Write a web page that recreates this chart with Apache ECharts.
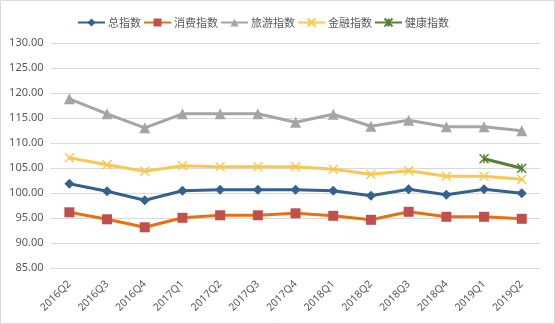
<!DOCTYPE html>
<html><head><meta charset="utf-8">
<script src="https://cdn.jsdelivr.net/npm/echarts@6/dist/echarts.min.js"></script>
<style>html,body{margin:0;padding:0;background:#fff}#main{width:555px;height:324px}</style>
</head><body><div id="main"></div>
<script>
const categories = ['2016Q2','2016Q3','2016Q4','2017Q1','2017Q2','2017Q3','2017Q4','2018Q1','2018Q2','2018Q3','2018Q4','2019Q1','2019Q2'];
const seriesNames = ['总指数','消费指数','旅游指数','金融指数','健康指数'];
const totalIndex = [101.9,100.4,98.6,100.5,100.7,100.7,100.7,100.5,99.5,100.8,99.7,100.8,100.0];
const consumeIndex = [96.2,94.8,93.2,95.1,95.6,95.6,96.0,95.5,94.7,96.3,95.3,95.3,94.9];
const travelIndex = [118.9,115.9,113.1,115.9,115.9,115.9,114.2,115.8,113.4,114.6,113.3,113.3,112.5];
const financeIndex = [107.1,105.7,104.4,105.5,105.3,105.3,105.3,104.8,103.8,104.5,103.4,103.4,102.8];
const healthIndex = [null,null,null,null,null,null,null,null,null,null,null,106.9,105.0];
const yTicks = {min:85,max:130,interval:5};

const xPath = 'path://M0,0L10,10M10,0L0,10';
const starPath = 'path://M0,0L10,10M10,0L0,10M5,0L5,10';
const styles = [
  {line:'#35618F', item:'#35618F', symbol:'diamond', size:10},
  {line:'#E8700E', item:'#C0504D', symbol:'rect', size:10},
  {line:'#A5A5A5', item:'#A5A5A5', symbol:'triangle', size:11},
  {line:'#F8C853', item:'#F8C853', symbol:xPath, size:9, stroke:true},
  {line:'#548235', item:'#548235', symbol:starPath, size:9, stroke:true}
];
const data = [totalIndex, consumeIndex, travelIndex, financeIndex, healthIndex];

const chart = echarts.init(document.getElementById('main'));
chart.setOption({
  animation:false,
  graphic:[{type:'rect',shape:{x:0.5,y:0.5,width:554,height:323},style:{fill:'none',stroke:'#d9d9d9',lineWidth:1},silent:true}],
  legend:{
    top:12, left:72, itemWidth:27, itemHeight:10, itemGap:2,
    textStyle:{color:'#595959',fontSize:11,fontFamily:'Noto Sans CJK SC',padding:[0,0,0,-2]},
    data:seriesNames
  },
  grid:{left:50.5,right:14.4,top:43.3,bottom:55.7,containLabel:false},
  xAxis:{
    type:'category', data:categories, boundaryGap:true,
    axisLine:{show:true,lineStyle:{color:'#d9d9d9'}},
    axisTick:{show:false},
    axisLabel:{rotate:45,interval:0,margin:14,color:'#595959',fontSize:10.5,fontFamily:'Noto Sans'}
  },
  yAxis:{
    type:'value', min:yTicks.min, max:yTicks.max, interval:yTicks.interval,
    axisLine:{show:false}, axisTick:{show:false},
    splitLine:{lineStyle:{color:'#d9d9d9',width:1}},
    axisLabel:{color:'#595959',fontSize:11,fontFamily:'Noto Sans',margin:7,formatter:v=>v.toFixed(2)}
  },
  series: seriesNames.map((n,i)=>({
    name:n, type:'line', data:data[i],
    symbol:styles[i].symbol, symbolSize:styles[i].size,
    showAllSymbol:true, connectNulls:false,
    lineStyle:{color:styles[i].line,width:3},
    itemStyle: styles[i].stroke ? {color:styles[i].item,borderColor:styles[i].item,borderWidth:1.5} : {color:styles[i].item,borderWidth:0},
    emphasis:{disabled:true}
  }))
});
</script></body></html>
